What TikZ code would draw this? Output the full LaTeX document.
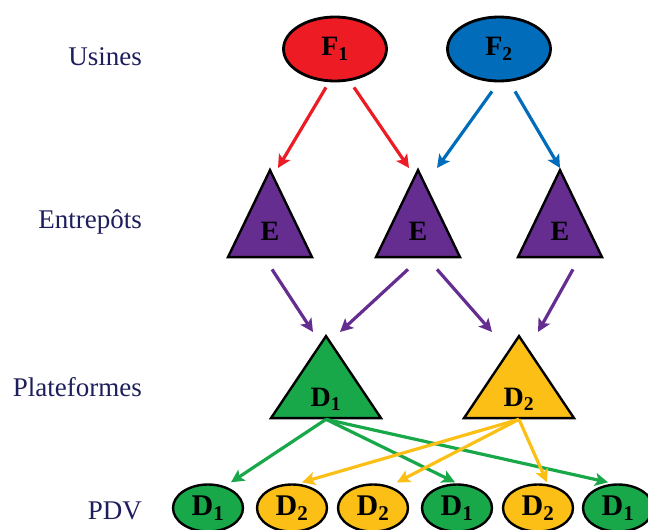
\documentclass[tikz,border=0pt]{standalone}
\usepackage{fontspec}
\setmainfont{Liberation Serif}
\usetikzlibrary{arrows.meta,shapes.geometric}
\definecolor{rouge}{RGB}{237,28,36}
\definecolor{bleu}{RGB}{0,108,186}
\definecolor{violet}{RGB}{102,45,145}
\definecolor{vert}{RGB}{24,168,74}
\definecolor{jaune}{RGB}{251,191,22}
\definecolor{marine}{RGB}{30,30,92}

\begin{document}
\begin{tikzpicture}[x=1pt, y=-1pt,
  niveau/.style = {anchor=east, text=marine, inner sep=0pt,
    font=\fontsize{27}{27}\selectfont},
  usine/.style = {ellipse, draw, line width=2.8pt, inner sep=0pt,
    minimum width=103pt, minimum height=64pt,
    font=\fontsize{28}{28}\selectfont\bfseries},
  tri/.style = {isosceles triangle, isosceles triangle stretches,
    shape border rotate=90, draw, line width=2.4pt, inner sep=0pt, anchor=apex},
  entrepot/.style = {tri, fill=violet, minimum width=84pt, minimum height=87pt},
  plateforme/.style = {tri, minimum width=110pt, minimum height=82pt},
  etiq/.style = {anchor=base, inner sep=0pt, font=\fontsize{28}{28}\selectfont\bfseries},
  pdvnode/.style = {ellipse, draw, line width=2.4pt, inner sep=0pt,
    minimum width=70pt, minimum height=47pt,
    font=\fontsize{30}{30}\selectfont\bfseries},
  lien/.style = {line width=3.2pt, -{Stealth[length=13pt, width=13pt, inset=3pt]}}]

  \useasboundingbox (0,0) rectangle (648,530);

  % niveaux
  \node[niveau] (usines) at (142,57) {Usines};
  \node[niveau] (entrepots) at (142,222) {Entrepôts};
  \node[niveau] (plateformes) at (142,387) {Plateformes};
  \node[niveau] (pdv) at (142,511) {PDV};

  % usines
  \node[usine, fill=rouge] (f1) at (335,49) {F\textsubscript{1}};
  \node[usine, fill=bleu] (f2) at (499,49) {F\textsubscript{2}};

  % entrepots
  \node[entrepot] (e1) at (270,167) {};
  \node[entrepot] (e2) at (418,167) {};
  \node[entrepot] (e3) at (560,167) {};
  \node[etiq] (le1) at ([yshift=18pt]e1.lower side) {E};
  \node[etiq] (le2) at ([yshift=18pt]e2.lower side) {E};
  \node[etiq] (le3) at ([yshift=18pt]e3.lower side) {E};

  % plateformes
  \node[plateforme, fill=vert] (d1) at (326,333) {};
  \node[plateforme, fill=jaune] (d2) at (519,333) {};
  \node[etiq] (ld1) at ([yshift=13pt]d1.lower side) {D\textsubscript{1}};
  \node[etiq] (ld2) at ([yshift=13pt]d2.lower side) {D\textsubscript{2}};

  % points de vente
  \node[pdvnode, fill=vert] (p1) at (208,508) {D\textsubscript{1}};
  \node[pdvnode, fill=jaune] (p2) at (292,508) {D\textsubscript{2}};
  \node[pdvnode, fill=jaune] (p3) at (373,508) {D\textsubscript{2}};
  \node[pdvnode, fill=vert] (p4) at (457,508) {D\textsubscript{1}};
  \node[pdvnode, fill=jaune] (p5) at (538,508) {D\textsubscript{2}};
  \node[pdvnode, fill=vert] (p6) at (618,508) {D\textsubscript{1}};

  % usines -> entrepots
  \draw[lien, rouge] ([xshift=-9pt, yshift=-5pt]f1.south) -- ([xshift=8pt, yshift=-1pt]e1.apex);
  \draw[lien, rouge] ([xshift=19pt, yshift=-5pt]f1.south) -- ([xshift=-9pt, yshift=-1pt]e2.apex);
  \draw[lien, bleu] ([xshift=-7pt, yshift=-9pt]f2.south) -- ([xshift=19pt, yshift=-1pt]e2.apex);
  \draw[lien, bleu] ([xshift=16pt, yshift=-9pt]f2.south) -- ([yshift=-1pt]e3.apex);

  % entrepots -> plateformes
  \draw[lien, violet] ([xshift=2pt, yshift=-11pt]e1.lower side) -- ([xshift=-13pt, yshift=1pt]d1.apex);
  \draw[lien, violet] ([xshift=-10pt, yshift=-11pt]e2.lower side) -- ([xshift=14pt, yshift=1pt]d1.apex);
  \draw[lien, violet] ([xshift=19pt, yshift=-11pt]e2.lower side) -- ([xshift=-27pt, yshift=1pt]d2.apex);
  \draw[lien, violet] ([xshift=13pt, yshift=-11pt]e3.lower side) -- ([xshift=19pt, yshift=1pt]d2.apex);

  % plateformes -> points de vente
  \draw[lien, vert] (d1.lower side) -- ([xshift=23pt, yshift=1pt]p1.north);
  \draw[lien, vert] (d1.lower side) -- ([xshift=-2pt, yshift=1pt]p4.north);
  \draw[lien, vert] (d1.lower side) -- ([xshift=-10pt, yshift=1pt]p6.north);
  \draw[lien, jaune] (d2.lower side) -- ([xshift=10pt, yshift=1pt]p2.north);
  \draw[lien, jaune] (d2.lower side) -- ([xshift=24pt, yshift=1pt]p3.north);
  \draw[lien, jaune] (d2.lower side) -- ([xshift=9pt, yshift=1pt]p5.north);
\end{tikzpicture}
\end{document}
